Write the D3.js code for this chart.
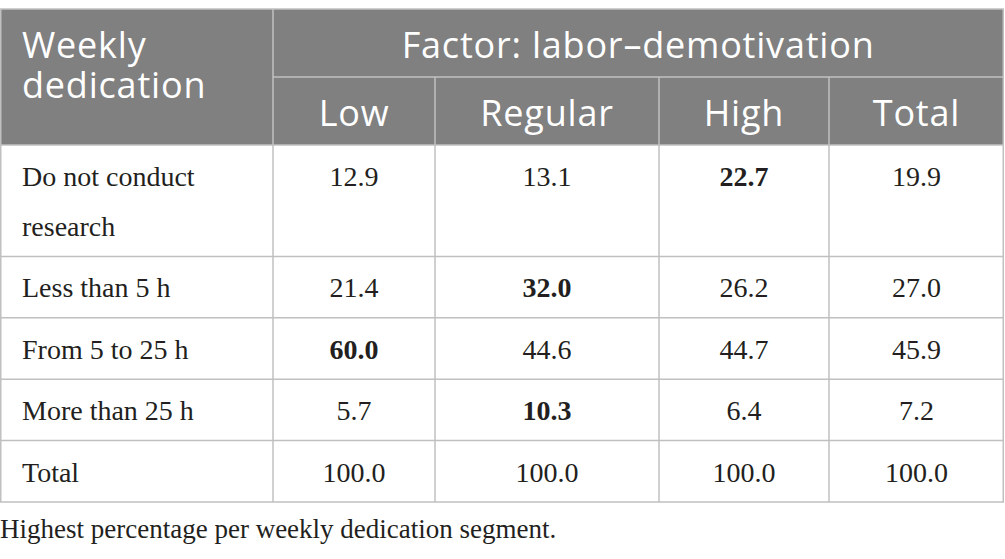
<!DOCTYPE html>
<html>
<head>
<meta charset="utf-8">
<script src="https://cdn.jsdelivr.net/npm/d3@7"></script>
<style>
  body { margin: 0; background: #fff; }
  svg { display: block; }
  .head { font-family: "Open Sans", sans-serif; fill: #fff; font-size: 36px; letter-spacing: 0.8px; }
  .cell { font-family: "Liberation Serif", serif; fill: #231f20; font-size: 28px; }
  .note { font-family: "Liberation Serif", serif; fill: #231f20; font-size: 27px; }
</style>
</head>
<body>
<div id="chart"></div>
<script>
// table content
const stubTitle = ["Weekly", "dedication"];
const factorTitle = "Factor: labor\u2013demotivation";
const columns = ["Low", "Regular", "High", "Total"];
const rowLabels = ["Do not conduct research", "Less than 5 h", "From 5 to 25 h", "More than 25 h", "Total"];
const lowValues = [12.9, 21.4, 60.0, 5.7, 100.0];
const regularValues = [13.1, 32.0, 44.6, 10.3, 100.0];
const highValues = [22.7, 26.2, 44.7, 6.4, 100.0];
const totalValues = [19.9, 27.0, 45.9, 7.2, 100.0];
const footnote = "Highest percentage per weekly dedication segment.";

const W = 1005, H = 559;
const colWidths = [273, 162, 224, 170, 175];
const tableTop = 9, headMid = 77, headBottom = 145;
const lineH = 50, baseRowH = 61.4, padX = 22;
const gridColor = "#c0c0c0";

const series = [lowValues, regularValues, highValues, totalValues];

const svg = d3.select("#chart").append("svg")
    .attr("width", W)
    .attr("height", H);

// column edges from the widths
const edges = [0];
colWidths.forEach(w => edges.push(edges[edges.length - 1] + w));
const right = edges[edges.length - 1] - 0.75;

const colX = d3.scaleOrdinal()
    .domain(["stub", ...columns])
    .range(edges.slice(0, -1));
const colW = d3.scaleOrdinal()
    .domain(["stub", ...columns])
    .range(colWidths);

// wrap row labels into lines that fit the stub column
const measure = svg.append("text").attr("class", "cell").attr("visibility", "hidden");
function wrap(label, maxW){
    const words = label.split(" ");
    const lines = [];
    let line = [];
    for(const w of words){
        line.push(w);
        measure.text(line.join(" "));
        if(measure.node().getComputedTextLength() > maxW && line.length > 1){
            line.pop();
            lines.push(line.join(" "));
            line = [w];
        }
    }
    lines.push(line.join(" "));
    return lines;
}
const wrapped = rowLabels.map(l => wrap(l, colWidths[0] - padX * 2 - 20));
measure.remove();

// row positions
const rowTops = [];
let y = headBottom;
wrapped.forEach(lines => {
    const h = baseRowH + lineH * (lines.length - 1);
    rowTops.push({ y0: y, y1: y + h });
    y += h;
});
const tableBottom = y;

// header background
svg.append("rect")
    .attr("x", 0).attr("y", tableTop)
    .attr("width", right).attr("height", headBottom - tableTop)
    .attr("fill", "#808080");

const grid = svg.append("g")
    .attr("stroke", gridColor)
    .attr("stroke-width", 1.5)
    .attr("fill", "none");

// outer border
grid.append("rect")
    .attr("x", 0.75).attr("y", tableTop)
    .attr("width", right - 0.75).attr("height", tableBottom - tableTop);

// header lines
grid.append("line")
    .attr("x1", edges[1]).attr("x2", right)
    .attr("y1", headMid).attr("y2", headMid);
grid.append("line")
    .attr("x1", edges[1]).attr("x2", edges[1])
    .attr("y1", tableTop).attr("y2", tableBottom);
grid.selectAll(".vline")
    .data(columns.slice(1))
    .enter().append("line")
    .attr("x1", d => colX(d)).attr("x2", d => colX(d))
    .attr("y1", headMid).attr("y2", tableBottom);
grid.selectAll(".hline")
    .data(rowTops)
    .enter().append("line")
    .attr("x1", 0).attr("x2", right)
    .attr("y1", d => d.y0).attr("y2", d => d.y0);

// header text
const head = svg.append("g").attr("class", "head");
head.append("text")
    .attr("y", 58)
    .selectAll("tspan")
    .data(stubTitle)
    .enter().append("tspan")
    .attr("x", padX)
    .attr("dy", (d, i) => i === 0 ? 0 : 40)
    .text(d => d);
head.append("text")
    .attr("x", (edges[1] + right) / 2)
    .attr("y", 58)
    .attr("text-anchor", "middle")
    .text(factorTitle);
head.selectAll(".col")
    .data(columns)
    .enter().append("text")
    .attr("x", d => colX(d) + colW(d) / 2)
    .attr("y", 126)
    .attr("text-anchor", "middle")
    .text(d => d);

// body
const body = svg.append("g").attr("class", "cell");
wrapped.forEach((lines, r) => {
    const y0 = rowTops[r].y0;
    body.append("text")
        .attr("y", y0 + 41)
        .selectAll("tspan")
        .data(lines)
        .enter().append("tspan")
        .attr("x", padX)
        .attr("dy", (d, k) => k === 0 ? 0 : lineH)
        .text(d => d);

    const factorVals = series.slice(0, 3).map(s => s[r]);
    const maxV = d3.max(factorVals);
    const unique = factorVals.filter(v => v === maxV).length === 1;

    columns.forEach((c, j) => {
        const v = series[j][r];
        body.append("text")
            .attr("x", colX(c) + colW(c) / 2)
            .attr("y", y0 + 41)
            .attr("text-anchor", "middle")
            .attr("font-weight", (j < 3 && unique && v === maxV) ? "bold" : null)
            .text(d3.format(".1f")(v));
    });
});

svg.append("text")
    .attr("class", "note")
    .attr("x", 0)
    .attr("y", tableBottom + 36)
    .text(footnote);
</script>
</body>
</html>
